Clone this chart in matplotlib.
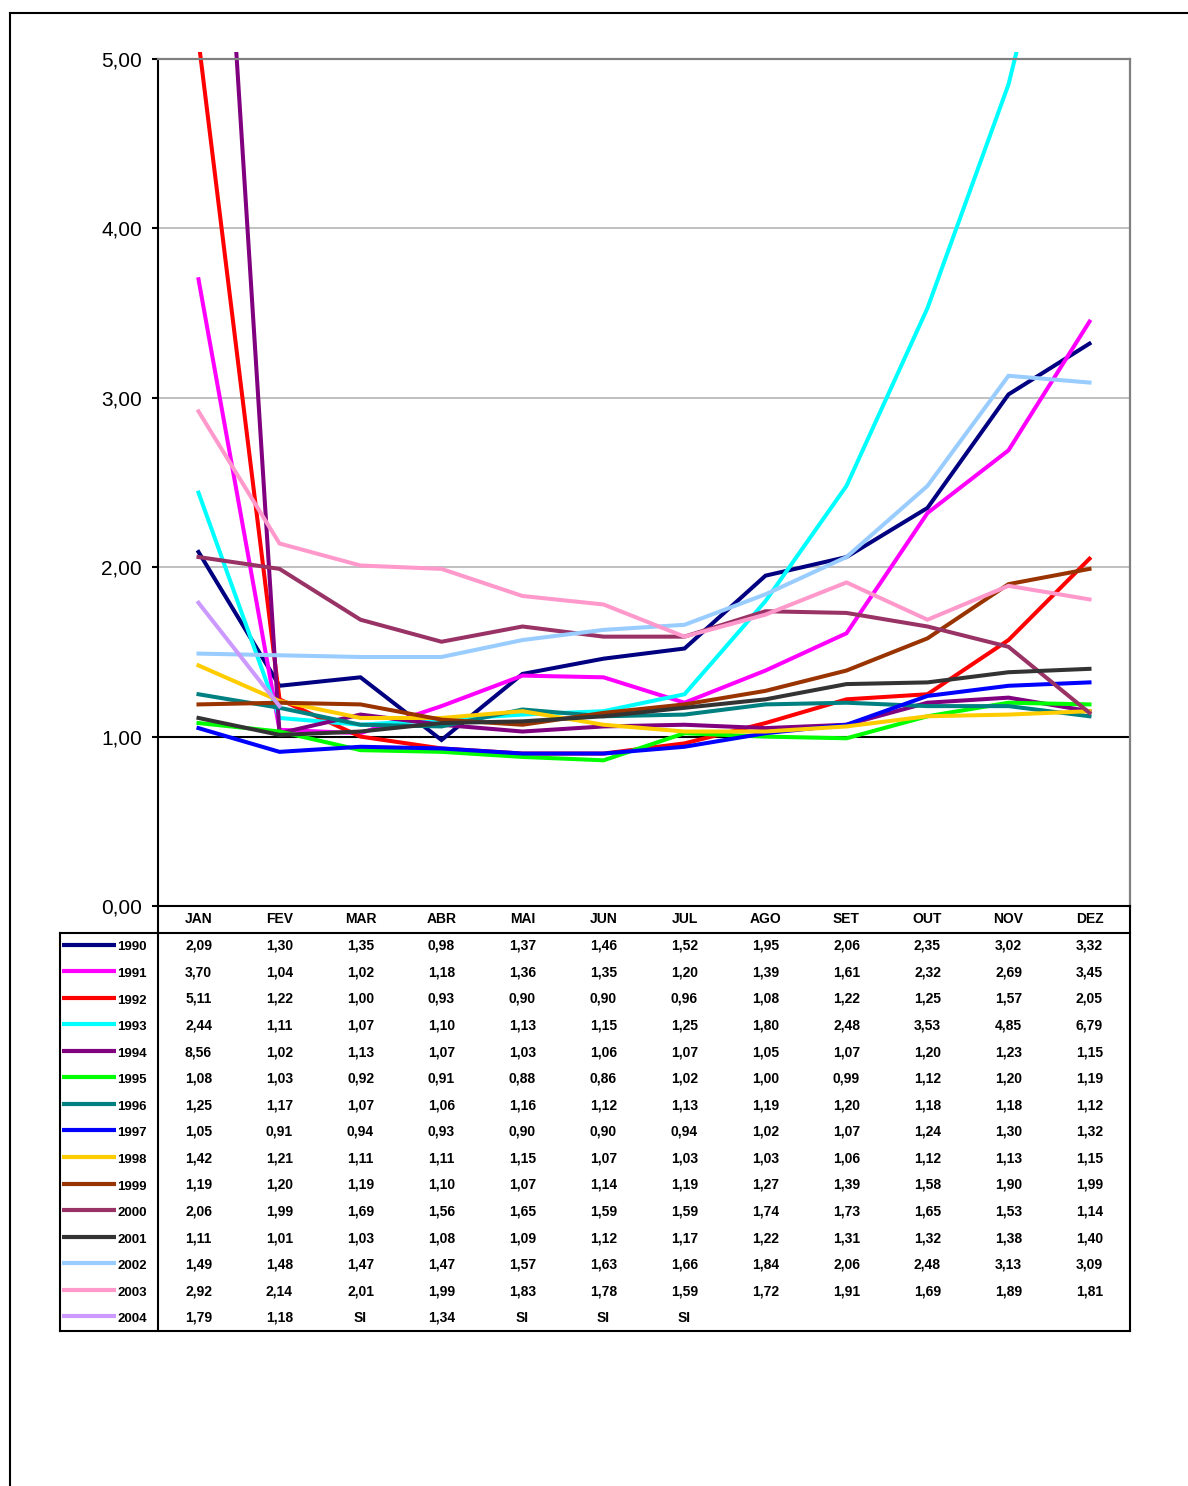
import numpy as np
import matplotlib
matplotlib.use("Agg")
import matplotlib.pyplot as plt
from matplotlib.lines import Line2D
from matplotlib.patches import Rectangle

plt.rcParams['font.family'] = ['Liberation Sans', 'DejaVu Sans']

months = ["JAN", "FEV", "MAR", "ABR", "MAI", "JUN", "JUL", "AGO", "SET", "OUT", "NOV", "DEZ"]
years = ["1990", "1991", "1992", "1993", "1994", "1995", "1996", "1997",
         "1998", "1999", "2000", "2001", "2002", "2003", "2004"]

v1990 = [2.09, 1.30, 1.35, 0.98, 1.37, 1.46, 1.52, 1.95, 2.06, 2.35, 3.02, 3.32]
v1991 = [3.70, 1.04, 1.02, 1.18, 1.36, 1.35, 1.20, 1.39, 1.61, 2.32, 2.69, 3.45]
v1992 = [5.11, 1.22, 1.00, 0.93, 0.90, 0.90, 0.96, 1.08, 1.22, 1.25, 1.57, 2.05]
v1993 = [2.44, 1.11, 1.07, 1.10, 1.13, 1.15, 1.25, 1.80, 2.48, 3.53, 4.85, 6.79]
v1994 = [8.56, 1.02, 1.13, 1.07, 1.03, 1.06, 1.07, 1.05, 1.07, 1.20, 1.23, 1.15]
v1995 = [1.08, 1.03, 0.92, 0.91, 0.88, 0.86, 1.02, 1.00, 0.99, 1.12, 1.20, 1.19]
v1996 = [1.25, 1.17, 1.07, 1.06, 1.16, 1.12, 1.13, 1.19, 1.20, 1.18, 1.18, 1.12]
v1997 = [1.05, 0.91, 0.94, 0.93, 0.90, 0.90, 0.94, 1.02, 1.07, 1.24, 1.30, 1.32]
v1998 = [1.42, 1.21, 1.11, 1.11, 1.15, 1.07, 1.03, 1.03, 1.06, 1.12, 1.13, 1.15]
v1999 = [1.19, 1.20, 1.19, 1.10, 1.07, 1.14, 1.19, 1.27, 1.39, 1.58, 1.90, 1.99]
v2000 = [2.06, 1.99, 1.69, 1.56, 1.65, 1.59, 1.59, 1.74, 1.73, 1.65, 1.53, 1.14]
v2001 = [1.11, 1.01, 1.03, 1.08, 1.09, 1.12, 1.17, 1.22, 1.31, 1.32, 1.38, 1.40]
v2002 = [1.49, 1.48, 1.47, 1.47, 1.57, 1.63, 1.66, 1.84, 2.06, 2.48, 3.13, 3.09]
v2003 = [2.92, 2.14, 2.01, 1.99, 1.83, 1.78, 1.59, 1.72, 1.91, 1.69, 1.89, 1.81]
v2004 = [1.79, 1.18, "SI", 1.34, "SI", "SI", "SI", None, None, None, None, None]

series = [v1990, v1991, v1992, v1993, v1994, v1995, v1996, v1997,
          v1998, v1999, v2000, v2001, v2002, v2003, v2004]
colors = ["#000080", "#FF00FF", "#FF0000", "#00FFFF", "#800080", "#00FF00",
          "#008080", "#0000FF", "#FFCC00", "#993300", "#993366", "#333333",
          "#99CCFF", "#FF99CC", "#CC99FF"]
yticks = [0, 1, 2, 3, 4, 5]

W, H = 1188, 1486
fig = plt.figure(figsize=(W / 100, H / 100), dpi=100)


def fx(px):
    return px / W


def fy(py):
    return 1 - py / H


def fline(x0, y0, x1, y1, color="black", lw=1.5):
    fig.add_artist(Line2D([fx(x0), fx(x1)], [fy(y0), fy(y1)],
                          transform=fig.transFigure, color=color, lw=lw,
                          solid_capstyle="projecting"))


def as_number(v):
    return float(v) if isinstance(v, (int, float)) else np.nan


def as_text(v):
    if v is None:
        return ""
    if isinstance(v, str):
        return v
    return f"{v:.2f}".replace(".", ",")


# --- chart ---------------------------------------------------------------
x_left, x_right, y_top, y_bot = 158, 1130, 59, 906
ax = fig.add_axes([fx(x_left), fy(y_bot), fx(x_right) - fx(x_left), fy(y_top) - fy(y_bot)])
ax.set_xlim(-0.5, len(months) - 0.5)
ax.set_ylim(0, 5)

for v in yticks[1:-1]:
    ax.axhline(v, color="black" if v == 1 else "#C0C0C0",
               lw=1.5 if v == 1 else 1.4, zorder=0.5)

clip = Rectangle((0, 0), 1, 1.008, transform=ax.transAxes)
x = np.arange(len(months))
for vals, col in zip(series, colors):
    y = [as_number(v) for v in vals]
    ln, = ax.plot(x, y, color=col, lw=2.9, solid_joinstyle="miter", zorder=2)
    ln.set_clip_path(clip)

ax.set_yticks(yticks)
ax.set_yticklabels([f"{v:.2f}".replace(".", ",") for v in yticks], fontsize=15)
ax.set_xticks([])
ax.tick_params(axis="y", direction="out", length=4.5, width=1.5, pad=7, colors="black")
for side in ("left", "bottom"):
    ax.spines[side].set_color("black")
    ax.spines[side].set_linewidth(1.5)
for side in ("top", "right"):
    ax.spines[side].set_color("#808080")
    ax.spines[side].set_linewidth(1.6)

# --- data table --------------------------------------------------------------
t_top, t_bot = 906, 1331
tax = fig.add_axes([fx(x_left), fy(t_bot), fx(x_right) - fx(x_left), fy(t_top) - fy(t_bot)])
tax.set_xlim(-0.5, len(months) - 0.5)
tax.set_ylim(len(years) + 1, 0)
tax.axis("off")

for i, m in enumerate(months):
    tax.text(i, 0.5, m, ha="center", va="center", fontsize=10, fontweight="bold")
for r, vals in enumerate(series, start=1):
    for i, v in enumerate(vals):
        tax.text(i, r + 0.5, as_text(v), ha="center", va="center",
                 fontsize=10, fontweight="bold")

lax = fig.add_axes([fx(60), fy(t_bot), fx(x_left) - fx(60), fy(t_top) - fy(t_bot)])
lax.set_xlim(60, x_left)
lax.set_ylim(len(years) + 1, 0)
lax.axis("off")
for r, (yr, col) in enumerate(zip(years, colors), start=1):
    lax.plot([62, 116], [r + 0.45, r + 0.45], color=col, lw=3, solid_capstyle="butt")
    lax.text(117.5, r + 0.56, yr, ha="left", va="center", fontsize=9.5, fontweight="bold")

# table borders
fline(x_left, y_bot, x_left, t_bot)
fline(x_right, y_bot, x_right, t_bot)
fline(60, 933, x_right, 933)
fline(60, t_bot, x_right, t_bot)
fline(60, 933, 60, t_bot)

# page frame
fline(10, 13, W + 5, 13)
fline(10, 13, 10, H + 5)

fig.savefig("out.png", dpi=100)
